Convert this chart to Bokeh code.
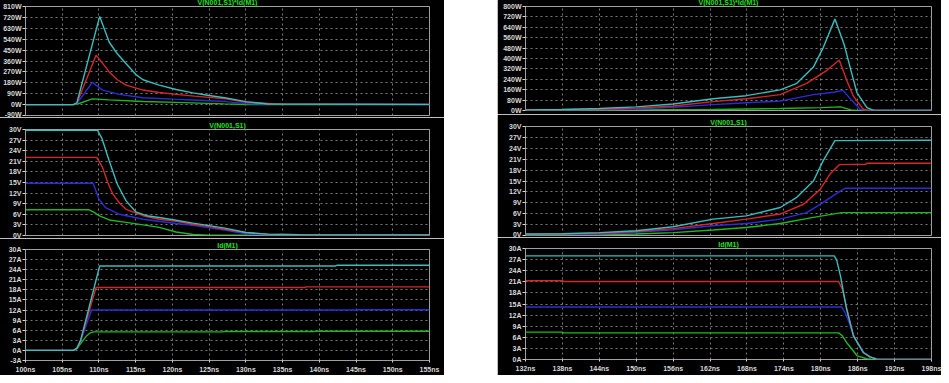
from bokeh.plotting import figure
from bokeh.layouts import row, column
from bokeh.models import Range1d, FixedTicker, PrintfTickFormatter, Title, Spacer
from bokeh.embed import file_html
from bokeh.resources import INLINE

# ---------------- tick values ----------------
on_x_ticks = [100, 105, 110, 115, 120, 125, 130, 135, 140, 145, 150, 155]
off_x_ticks = [132, 138, 144, 150, 156, 162, 168, 174, 180, 186, 192, 198]
on_p_ticks = [-90, 0, 90, 180, 270, 360, 450, 540, 630, 720, 810]
off_p_ticks = [0, 80, 160, 240, 320, 400, 480, 560, 640, 720, 800]
v_ticks = [0, 3, 6, 9, 12, 15, 18, 21, 24, 27, 30]
on_i_ticks = [-3, 0, 3, 6, 9, 12, 15, 18, 21, 24, 27, 30]
off_i_ticks = [0, 3, 6, 9, 12, 15, 18, 21, 24, 27, 30]

titles = ["V(N001,S1)*Id(M1)", "V(N001,S1)", "Id(M1)"]

# ---------------- turn-on (left) ----------------
# power V*I
on_p_teal_t = [100, 106.5, 107.0, 110.1, 111.4, 112.5, 113.7, 115.0, 116.0, 118.2, 120.5, 122.8, 125.0, 127.3, 130.0, 133.0, 155]
on_p_teal = [0, 0, 15, 728, 515, 420, 338, 250, 205, 161, 125, 97, 75, 55, 25, 5, 2]
on_p_red_t = [100, 106.5, 107.0, 109.6, 110.5, 111.4, 112.5, 113.7, 116.0, 118.2, 120.5, 123.0, 127.3, 130.0, 135.0, 155]
on_p_red = [0, 0, 12, 407, 340, 270, 205, 161, 120, 100, 84, 70, 47, 18, 3, 2]
on_p_blue_t = [100, 106.5, 107.0, 109.1, 110.5, 112.8, 116.0, 120.0, 122.8, 127.3, 130.0, 133.0, 155]
on_p_blue = [0, 0, 8, 183, 120, 84, 57, 45, 38, 25, 8, 2, 1]
on_p_green_t = [100, 106.5, 107.0, 109.1, 111.4, 116.0, 120.5, 123.7, 127.0, 130.0, 155]
on_p_green = [0, 0, 3, 47, 39, 25, 18, 12, 6, 1, 0]

# voltage V(N001,S1)
on_v_teal_t = [100, 109.8, 110.4, 111.4, 112.5, 113.7, 115.0, 116.5, 118.2, 120.5, 122.8, 125.0, 127.3, 130.0, 133.0, 137.3, 155]
on_v_teal = [29.8, 29.8, 27.5, 21.1, 14.5, 9.8, 6.7, 5.6, 5.1, 4.3, 3.5, 2.8, 2.0, 0.85, 0.4, 0.2, 0.15]
on_v_red_t = [100, 109.7, 110.5, 111.2, 111.9, 112.8, 113.7, 116.0, 118.2, 120.5, 122.8, 125.0, 127.3, 130.0, 133.0, 137.0, 155]
on_v_red = [22.1, 22.1, 19.2, 15.0, 11.7, 9.2, 7.4, 5.6, 4.6, 4.0, 3.2, 2.5, 1.7, 0.85, 0.4, 0.2, 0.15]
on_v_blue_t = [100, 109.2, 110.0, 110.9, 112.8, 116.0, 120.5, 123.0, 127.3, 130.0, 133.0, 155]
on_v_blue = [14.8, 14.8, 10.3, 7.9, 6.0, 4.6, 3.4, 2.8, 1.5, 0.5, 0.2, 0.1]
on_v_green_t = [100, 108.6, 109.3, 110.0, 111.4, 113.7, 116.0, 118.2, 120.5, 122.8, 125.0, 155]
on_v_green = [7.3, 7.3, 6.6, 5.6, 4.4, 3.7, 3.0, 2.3, 1.0, 0.3, 0.1, 0.1]

# current Id(M1)
on_i_teal_t = [100, 106.5, 107.0, 107.5, 110.1, 142.2, 142.4, 155]
on_i_teal = [0, 0, 0.6, 3.0, 25.1, 25.1, 25.3, 25.3]
on_i_red_t = [100, 106.5, 107.0, 107.5, 109.6, 138.0, 138.2, 155]
on_i_red = [0, 0, 0.6, 2.9, 18.7, 18.7, 18.9, 18.9]
on_i_blue_t = [100, 106.5, 107.0, 107.5, 109.0, 145.0, 145.2, 155]
on_i_blue = [0, 0, 0.6, 2.8, 12.0, 12.0, 12.1, 12.1]
on_i_green_t = [100, 106.5, 107.0, 107.5, 108.3, 108.8, 109.3, 126.8, 127.0, 139.3, 139.5, 155]
on_i_green = [0, 0, 0.5, 2.0, 4.3, 5.2, 5.5, 5.5, 5.6, 5.6, 5.7, 5.7]

# ---------------- turn-off (right) ----------------
off_p_teal_t = [132, 138, 144, 150, 156, 162.5, 167.9, 173.4, 176.1, 178.8, 180.4, 182.3, 183.8, 184.9, 185.9, 187.5, 188.6, 198]
off_p_teal = [5, 8, 15, 28, 50, 90, 114, 159, 209, 334, 484, 703, 508, 309, 135, 22, 0, 0]
off_p_red_t = [132, 144, 150, 156, 162.5, 167.9, 173.4, 177.7, 181.0, 183.0, 184.2, 185.3, 186.9, 187.8, 198]
off_p_red = [4, 10, 18, 35, 68, 90, 122, 209, 309, 389, 234, 110, 10, 0, 0]
off_p_blue_t = [132, 144, 150, 156, 162.5, 167.9, 173.4, 178.8, 182.1, 183.6, 184.9, 186.4, 187.3, 198]
off_p_blue = [3, 6, 12, 25, 45, 60, 72, 122, 140, 155, 85, 10, 0, 0]
off_p_green_t = [132, 150, 162.5, 173.4, 180.0, 183.2, 184.9, 186.0, 198]
off_p_green = [1, 4, 8, 15, 22, 28, 5, 0, 0]

off_v_teal_t = [132, 138, 144, 150, 156, 162.5, 167.9, 173.4, 176.1, 178.8, 180.4, 182.3, 198]
off_v_teal = [0.4, 0.5, 0.8, 1.3, 2.4, 4.5, 5.4, 7.7, 10.5, 15.0, 20.6, 26.1, 26.2]
off_v_red_t = [132, 144, 150, 156, 162.5, 167.9, 173.4, 177.2, 179.9, 181.5, 183.0, 187.3, 187.5, 198]
off_v_red = [0.3, 0.6, 1.1, 1.9, 3.3, 4.5, 5.9, 8.6, 12.7, 16.9, 19.5, 19.6, 19.9, 19.9]
off_v_blue_t = [132, 144, 150, 156, 162.5, 167.9, 173.4, 177.7, 180.4, 182.6, 183.9, 198]
off_v_blue = [0.2, 0.4, 0.9, 1.6, 2.7, 3.3, 4.5, 6.3, 9.1, 11.6, 13.0, 13.0]
off_v_green_t = [132, 144, 150, 156, 162.5, 167.9, 173.4, 178.8, 183.4, 198]
off_v_green = [0.1, 0.2, 0.4, 0.8, 1.5, 2.2, 3.3, 5.0, 6.3, 6.3]

off_i_teal_t = [132, 182.2, 182.6, 183.2, 184.2, 185.3, 186.9, 188.0, 189.1, 198]
off_i_teal = [28.0, 28.0, 26.8, 22.6, 13.6, 6.4, 1.9, 0.7, 0.1, 0]
off_i_red_t = [132, 138.0, 138.2, 182.9, 183.5, 184.2, 185.3, 186.9, 188.0, 189.1, 198]
off_i_red = [21.3, 21.3, 21.1, 21.1, 19.0, 14.0, 6.6, 1.9, 0.7, 0.1, 0]
off_i_blue_t = [132, 183.4, 184.0, 184.6, 185.5, 187.0, 188.0, 189.3, 198]
off_i_blue = [14.2, 14.2, 12.5, 10.0, 5.8, 1.9, 0.7, 0.1, 0]
off_i_green_t = [132, 138.0, 138.2, 182.9, 183.5, 184.2, 185.9, 187.5, 188.5, 198]
off_i_green = [7.4, 7.4, 7.2, 7.2, 6.4, 4.6, 1.0, 0.2, 0, 0]

# ---------------- styles ----------------
C_TEAL, C_RED, C_BLUE, C_GREEN = "#3cbcbc", "#d42828", "#2c2cd8", "#20b820"
TXT = "#d8d8d8"
GRID = "#7a7a7a"
FONT = "Liberation Sans"


def make_fig(width, height, xr, yr, xticks, yticks, unit, borders, title, show_x, standoff=1):
    l, r, t, b = borders
    p = figure(width=width, height=height, x_range=Range1d(*xr), y_range=Range1d(*yr),
               output_backend="svg", toolbar_location=None, tools="",
               x_axis_location="below" if show_x else None,
               min_border_left=l, min_border_right=r, min_border_top=t, min_border_bottom=b)
    p.background_fill_color = "black"
    p.border_fill_color = "black"
    p.outline_line_color = "#a0a0a0"
    p.outline_line_width = 1

    p.add_layout(Title(text=title, align="center", standoff=standoff,
                       text_color="#22e022", text_font=FONT, text_font_style="bold",
                       text_font_size="7px"), "above")

    ax = p.yaxis[0]
    ax.ticker = FixedTicker(ticks=yticks)
    ax.formatter = PrintfTickFormatter(format="%d" + unit)
    ax.axis_line_color = None
    ax.major_tick_out = 3
    ax.major_tick_in = 0
    ax.minor_tick_line_color = None
    ax.major_tick_line_color = TXT
    ax.major_label_text_color = TXT
    ax.major_label_text_font = FONT
    ax.major_label_text_font_style = "bold"
    ax.major_label_text_font_size = "7px"
    ax.major_label_standoff = 1

    p.ygrid.grid_line_color = GRID
    p.ygrid.grid_line_dash = "2 3"
    p.xgrid.ticker = FixedTicker(ticks=xticks)
    p.xgrid.grid_line_color = GRID
    p.xgrid.grid_line_dash = "2 3"

    if show_x:
        xa = p.xaxis[0]
        xa.ticker = FixedTicker(ticks=xticks)
        xa.formatter = PrintfTickFormatter(format="%dns")
        xa.axis_line_color = None
        xa.major_tick_out = 2
        xa.major_tick_in = 0
        xa.minor_tick_line_color = None
        xa.major_tick_line_color = TXT
        xa.major_label_text_color = TXT
        xa.major_label_text_font = FONT
        xa.major_label_text_font_style = "bold"
        xa.major_label_text_font_size = "7px"
        xa.major_label_standoff = 3
    return p


def add_traces(p, series):
    for t, v, c in series:
        p.line(t, v, line_color=c, line_width=1.4)


# left column (turn-on)
LW = 445
l1 = make_fig(LW, 122, (100, 155), (-90, 810), on_x_ticks, on_p_ticks, "W", (26, 15, 11, 2), titles[0], False)
add_traces(l1, [(on_p_green_t, on_p_green, C_GREEN), (on_p_blue_t, on_p_blue, C_BLUE),
                (on_p_red_t, on_p_red, C_RED), (on_p_teal_t, on_p_teal, C_TEAL)])
l2 = make_fig(LW, 121, (100, 155), (0, 30), on_x_ticks, v_ticks, "V", (26, 15, 12, 3), titles[1], False)
add_traces(l2, [(on_v_green_t, on_v_green, C_GREEN), (on_v_blue_t, on_v_blue, C_BLUE),
                (on_v_red_t, on_v_red, C_RED), (on_v_teal_t, on_v_teal, C_TEAL)])
l3 = make_fig(LW, 137, (100, 155), (-3, 30), on_x_ticks, on_i_ticks, "A", (26, 15, 11, 15), titles[2], True)
add_traces(l3, [(on_i_green_t, on_i_green, C_GREEN), (on_i_blue_t, on_i_blue, C_BLUE),
                (on_i_red_t, on_i_red, C_RED), (on_i_teal_t, on_i_teal, C_TEAL)])

# right column (turn-off)
RW = 444
r1 = make_fig(RW, 119, (132, 198), (0, 800), off_x_ticks, off_p_ticks, "W", (28, 10, 11, 4), titles[0], False)
add_traces(r1, [(off_p_green_t, off_p_green, C_GREEN), (off_p_blue_t, off_p_blue, C_BLUE),
                (off_p_red_t, off_p_red, C_RED), (off_p_teal_t, off_p_teal, C_TEAL)])
r2 = make_fig(RW, 123, (132, 198), (0, 30), off_x_ticks, v_ticks, "V", (28, 10, 12, 2), titles[1], False)
add_traces(r2, [(off_v_green_t, off_v_green, C_GREEN), (off_v_blue_t, off_v_blue, C_BLUE),
                (off_v_red_t, off_v_red, C_RED), (off_v_teal_t, off_v_teal, C_TEAL)])
r3 = make_fig(RW, 138, (132, 198), (0, 30), off_x_ticks, off_i_ticks, "A", (28, 10, 11, 16), titles[2], True)
add_traces(r3, [(off_i_green_t, off_i_green, C_GREEN), (off_i_blue_t, off_i_blue, C_BLUE),
                (off_i_red_t, off_i_red, C_RED), (off_i_teal_t, off_i_teal, C_TEAL)])

left = column(l1, l2, l3, spacing=0)
right = column(r1, r2, r3, spacing=0)
root = row(left, Spacer(width=53, height=380), right, spacing=0, margin=(-5, 0, -10, -1))

open("out.html", "w").write(file_html(root, INLINE))
